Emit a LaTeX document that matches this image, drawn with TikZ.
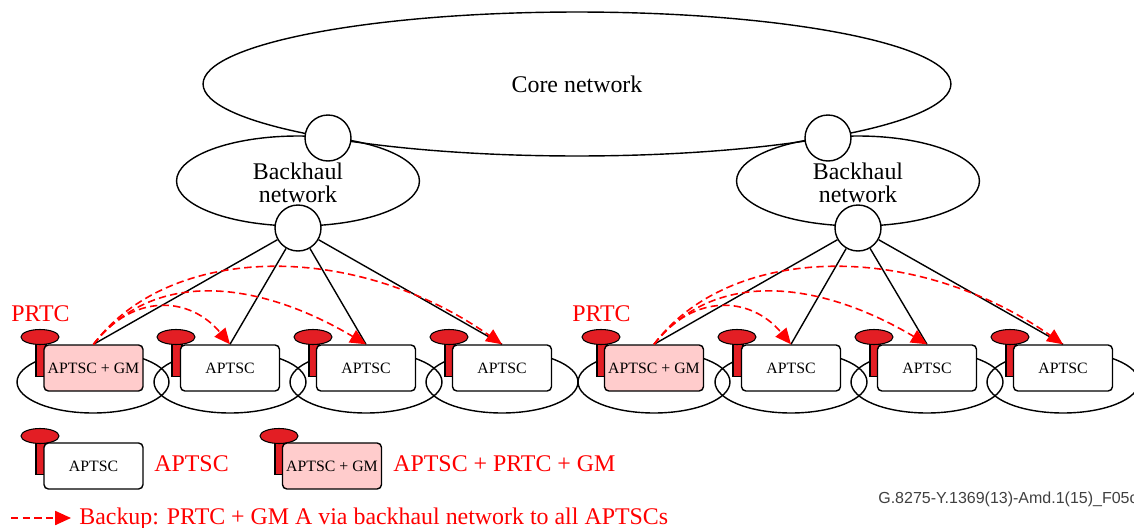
\documentclass[tikz,border=0pt]{standalone}
\usepackage{fontspec}
\setmainfont{Liberation Serif}
\newfontfamily\figfont{Liberation Sans}
\usetikzlibrary{shapes.geometric,arrows.meta}
\definecolor{mastred}{HTML}{E31E24}
\definecolor{gmpink}{HTML}{FFCCCC}
\tikzset{
  cloud/.style={draw,ellipse,inner sep=0pt,line width=.8pt},
  hub/.style={draw,circle,fill=white,inner sep=0pt,minimum size=.92cm,line width=.8pt},
  ring/.style={draw,ellipse,inner sep=0pt,minimum width=3.04cm,minimum height=1.24cm,line width=.8pt},
  mast/.style={draw,fill=mastred,inner sep=0pt,minimum width=.2cm,minimum height=.78cm,line width=.6pt},
  dish/.style={draw,fill=mastred,ellipse,inner sep=0pt,minimum width=.76cm,minimum height=.3cm,line width=.6pt},
  clock/.style={draw,fill=white,rounded corners=2.5pt,inner sep=0pt,minimum width=1.98cm,minimum height=.92cm,line width=.8pt,font=\fontsize{9}{9}\selectfont},
  clockgm/.style={clock,fill=gmpink},
  link/.style={line width=.8pt},
  backup/.style={red,line width=.9pt,dash pattern=on 4.2pt off 2.4pt,-{Triangle[length=9pt,width=8pt]}},
  redtext/.style={red,font=\fontsize{13.6}{13.6}\selectfont,inner sep=0pt}
}
\begin{document}
\begin{tikzpicture}[x=.02cm,y=-.02cm]
\useasboundingbox (0,0) rectangle (1134,528);
\node[cloud,minimum width=14.96cm,minimum height=2.88cm] (core) at (577,84) {}; %core ellipse
\node[font=\fontsize{13.6}{13.6}\selectfont] at (577,84) {Core network}; %core label
\node[cloud,minimum width=4.86cm,minimum height=1.8cm] (bhA) at (298,181) {}; %left backhaul
\node[cloud,minimum width=4.86cm,minimum height=1.8cm] (bhB) at (858,181) {}; %right backhaul
\node[align=center,font=\fontsize{13.6}{13}\selectfont,inner sep=0pt] (bhAtext) at (298,183) {Backhaul\\network}; %left label
\node[align=center,font=\fontsize{13.6}{13}\selectfont,inner sep=0pt] (bhBtext) at (858,183) {Backhaul\\network}; %right label
\node[hub] (upA) at (328,138) {}; %core to left backhaul
\node[hub] (upB) at (828,138) {}; %core to right backhaul
\node[hub] (downA) at (298,228) {}; %left backhaul to access
\node[hub] (downB) at (858,228) {}; %right backhaul to access

\node[ring] at (93,382) {}; %access rings, left group
\node[ring] at (230,382) {};
\node[ring] at (366,382) {};
\node[ring] at (502,382) {};
\node[ring] at (654,382) {}; %access rings, right group
\node[ring] at (791,382) {};
\node[ring] at (927,382) {};
\node[ring] at (1063,382) {};

\node[mast] (mA1) at (41,357) {}; \node[dish] (dA1) at (40,337) {}; %masts, left group
\node[mast] (mA2) at (177,357) {}; \node[dish] (dA2) at (176,337) {};
\node[mast] (mA3) at (314,357) {}; \node[dish] (dA3) at (313,337) {};
\node[mast] (mA4) at (450,357) {}; \node[dish] (dA4) at (449,337) {};
\node[mast] (mB1) at (602,357) {}; \node[dish] (dB1) at (601,337) {}; %masts, right group
\node[mast] (mB2) at (738,357) {}; \node[dish] (dB2) at (737,337) {};
\node[mast] (mB3) at (875,357) {}; \node[dish] (dB3) at (874,337) {};
\node[mast] (mB4) at (1011,357) {}; \node[dish] (dB4) at (1010,337) {};

\node[clockgm] (cA1) at (93.5,368) {APTSC + GM}; %boxes, left group
\node[clock] (cA2) at (230,368) {APTSC};
\node[clock] (cA3) at (366,368) {APTSC};
\node[clock] (cA4) at (502,368) {APTSC};
\node[clockgm] (cB1) at (654,368) {APTSC + GM}; %boxes, right group
\node[clock] (cB2) at (791,368) {APTSC};
\node[clock] (cB3) at (927,368) {APTSC};
\node[clock] (cB4) at (1063,368) {APTSC};

\draw[link] (downA) -- (cA1.north); %links, left group
\draw[link] (downA) -- (cA2.north);
\draw[link] (downA) -- (cA3.north);
\draw[link] (downA) -- (cA4.north);
\draw[link] (downB) -- (cB1.north); %links, right group
\draw[link] (downB) -- (cB2.north);
\draw[link] (downB) -- (cB3.north);
\draw[link] (downB) -- (cB4.north);

\draw[backup] (cA1.north) .. controls +(40,-52) and +(-40,-48) .. (cA2.north); %backup arcs, left group
\draw[backup] (cA1.north) .. controls +(60,-75) and +(-110,-65) .. (cA3.north);
\draw[backup] (cA1.north) .. controls +(75,-100) and +(-150,-105) .. (cA4.north);
\draw[backup] (cB1.north) .. controls +(40,-52) and +(-40,-48) .. (cB2.north); %backup arcs, right group
\draw[backup] (cB1.north) .. controls +(60,-75) and +(-110,-65) .. (cB3.north);
\draw[backup] (cB1.north) .. controls +(75,-100) and +(-150,-105) .. (cB4.north);

\node[redtext,anchor=west] (prtcA) at (11,314) {PRTC}; %PRTC labels
\node[redtext,anchor=west] (prtcB) at (572,314) {PRTC};

\node[mast] (mK1) at (41,455) {}; \node[dish] (dK1) at (40,436) {}; %legend
\node[clock] (cK1) at (93.5,466) {APTSC};
\node[redtext,anchor=west] (tK1) at (154,464) {APTSC};
\node[mast] (mK2) at (280,455) {}; \node[dish] (dK2) at (279,436) {};
\node[clockgm] (cK2) at (332,466) {APTSC + GM};
\node[redtext,anchor=west] (tK2) at (393,464) {APTSC + PRTC + GM};
\coordinate (bkstart) at (11,518);
\coordinate (bkend) at (71,518);
\draw[backup] (bkstart) -- (bkend); %legend arrow
\node[redtext,anchor=west] (tK3) at (79,519) {Backup: PRTC + GM A via backhaul network to all APTSCs};

\node[anchor=west,inner sep=0pt,text=black!75,font=\figfont\fontsize{9.1}{9}\selectfont] (figid) at (878,499) {G.8275-Y.1369(13)-Amd.1(15)\_F05c}; %figure id
\end{tikzpicture}
\end{document}
